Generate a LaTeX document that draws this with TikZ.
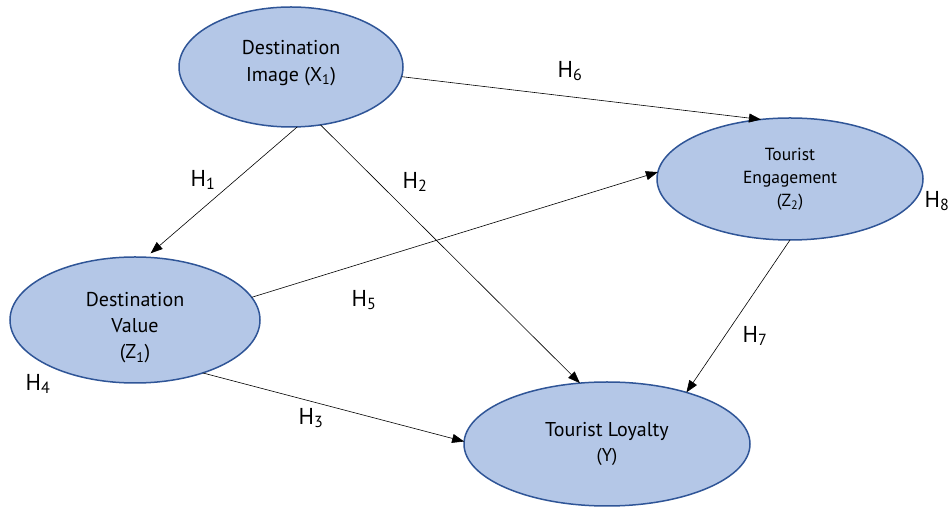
\documentclass[tikz,border=0pt]{standalone}
\usepackage{fontspec}
\setmainfont{PT Sans}
\usetikzlibrary{arrows.meta,shapes.geometric}
\definecolor{efill}{HTML}{B4C7E7}
\definecolor{edraw}{HTML}{2F5597}
\tikzset{
  construct/.style={ellipse, draw=edraw, fill=efill, line width=1.5pt, inner sep=0pt, outer sep=0pt, align=center, font=\fontsize{20}{27}\selectfont},
  link/.style={draw=black, line width=0.6pt, -{Triangle[length=12pt,width=9pt]}},
  hlab/.style={font=\fontsize{23}{26}\selectfont, inner sep=0pt}
}
\begin{document}
\begin{tikzpicture}[x=1pt,y=1pt]
\useasboundingbox (0,0) rectangle (950,508);
\node[construct, minimum width=224pt, minimum height=120pt] (img) at (291,441) {Destination\\Image (X\textsubscript{1})\\[-22pt]\strut};
\node[construct, minimum width=266pt, minimum height=122pt, font=\fontsize{17.5}{23}\selectfont] (eng) at (790,329) {Tourist\\Engagement\\(Z\textsubscript{2})};
\node[construct, minimum width=250pt, minimum height=126pt, font=\fontsize{20}{26}\selectfont] (val) at (135,188) {\strut\\[-14pt]Destination\\Value\\(Z\textsubscript{1})};
\node[construct, minimum width=286pt, minimum height=124pt, font=\fontsize{20}{25}\selectfont] (loy) at (607,64) {Tourist Loyalty\\{\fontsize{18.5}{20}\selectfont(Y)}};

\draw[link] (img.-5) -- (eng.116);
\draw[link, shorten >=6pt] (img.-84) -- (val.80);
\draw[link] (img.-63) -- (loy.114);
\draw[link] (val.11) -- (eng.177);
\draw[link] (val.-38) -- (loy.179);
\draw[link] (eng.-90) -- (loy.33);

\node[hlab] (h6) at (570,437) {H\textsubscript{6}};
\node[hlab] (h1) at (203,328) {H\textsubscript{1}};
\node[hlab] (h2) at (415,326) {H\textsubscript{2}};
\node[hlab] (h8) at (937,307) {H\textsubscript{8}};
\node[hlab] (h5) at (364,208) {H\textsubscript{5}};
\node[hlab] (h4) at (38,124) {H\textsubscript{4}};
\node[hlab] (h3) at (311,90) {H\textsubscript{3}};
\node[hlab] (h7) at (755,172) {H\textsubscript{7}};
\end{tikzpicture}
\end{document}
